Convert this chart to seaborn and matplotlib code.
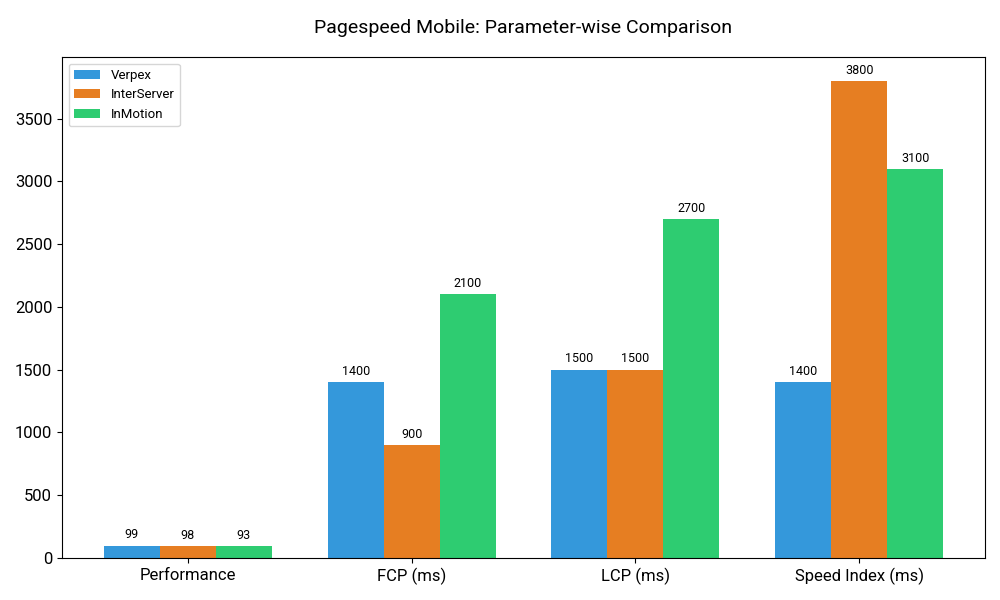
import pandas as pd
import matplotlib.pyplot as plt
import seaborn as sns

# Dados do gráfico
parametros = ["Performance", "FCP (ms)", "LCP (ms)", "Speed Index (ms)"]
verpex = [99, 1400, 1500, 1400]
interserver = [98, 900, 1500, 3800]
inmotion = [93, 2100, 2700, 3100]
hosts = ["Verpex", "InterServer", "InMotion"]
cores = ["#3498db", "#e67e22", "#2ecc71"]

df = pd.DataFrame({
    "Parâmetro": parametros * 3,
    "Host": [h for h in hosts for _ in parametros],
    "Valor": verpex + interserver + inmotion,
})

plt.rcParams["font.family"] = ["Roboto", "DejaVu Sans"]

fig, ax = plt.subplots(figsize=(10, 6), dpi=100)
sns.barplot(data=df, x="Parâmetro", y="Valor", hue="Host", palette=cores,
            width=0.75, saturation=1, ax=ax, errorbar=None)

for c in ax.containers:
    ax.bar_label(c, fmt="%d", padding=3, fontsize=9)

ax.set_xlabel("")
ax.set_ylabel("")
ax.set_title("Pagespeed Mobile: Parameter-wise Comparison", fontsize=14, pad=17)
ax.tick_params(axis="both", labelsize=12)
ax.margins(x=0.05, y=0.05)
ax.legend(loc="upper left", fontsize=9.5, title=None)

plt.subplots_adjust(left=0.062, right=0.985, top=0.905, bottom=0.07)
plt.savefig("out.png")
